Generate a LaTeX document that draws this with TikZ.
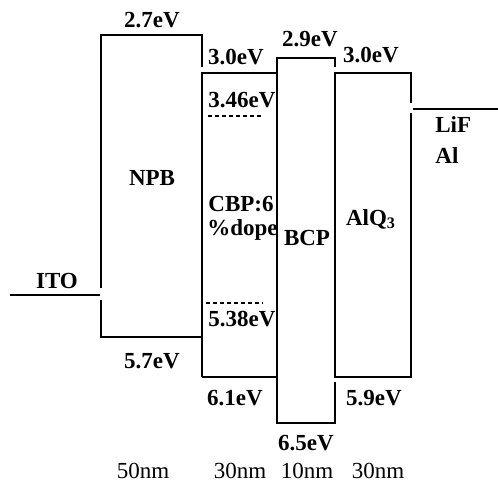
\documentclass[tikz,border=0pt]{standalone}
\usepackage{fontspec}
\setmainfont{Liberation Serif}
\usepackage{tikz}
\usetikzlibrary{positioning}

\newcommand{\labelsize}{\fontsize{11.5}{13.5}\selectfont}

\tikzset{
  level/.style={line width=0.8pt},
  dopant/.style={line width=0.8pt, dash pattern=on 2pt off 1.5pt},
  ev/.style={font=\labelsize\bfseries, inner sep=0pt, anchor=base},
  width/.style={font=\labelsize, inner sep=0pt, anchor=base}
}

\begin{document}
\begin{tikzpicture}[x=0.5pt, y=-0.5pt]
  \useasboundingbox (0,0) rectangle (498,481);

  % Anode
  \draw[level] (10,295) -- (100,295);
  \node[ev] (ito) at (57,288) {ITO};

  % NPB
  \draw[level] (101,288) -- (101,35) -- (202,35) -- (202,67);
  \draw[level] (101,300) -- (101,337) -- (202,337);
  \node[ev] (npb_lumo) at (152,28) {2.7eV};
  \node[ev] (npb) at (152,185) {NPB};
  \node[ev] (npb_homo) at (152,368) {5.7eV};

  % CBP host with dopant levels
  \draw[level] (202,377) -- (202,73) -- (277,73);
  \draw[level] (202,377) -- (277,377);
  \draw[dopant] (208,116) -- (263,116);
  \draw[dopant] (206,303) -- (263,303);
  \node[ev] (cbp_lumo) at (236,65) {3.0eV};
  \node[ev] (dop_lumo) at (242,108) {3.46eV};
  \node[ev, anchor=base west] (cbp) at (208,212) {CBP:6};
  \node[ev, anchor=base west] (dope) at (207,235) {\%dope};
  \node[ev] (dop_homo) at (242,326) {5.38eV};
  \node[ev] (cbp_homo) at (235,405) {6.1eV};

  % BCP
  \draw[level] (335,67) -- (335,58) -- (277,58) -- (277,423) -- (335,423) -- (335,382);
  \node[ev] (bcp_lumo) at (310,47) {2.9eV};
  \node[ev] (bcp) at (307,245) {BCP};
  \node[ev] (bcp_homo) at (306,450) {6.5eV};

  % AlQ3
  \draw[level] (411,103) -- (411,73) -- (335,73) -- (335,377) -- (411,377) -- (411,113);
  \node[ev] (alq_lumo) at (371,63) {3.0eV};
  \node[ev] (alq) at (371,225) {AlQ\textsubscript{3}};
  \node[ev] (alq_homo) at (374,405) {5.9eV};

  % Cathode
  \draw[level] (413,109) -- (498,109);
  \node[ev, anchor=base west] (lif) at (435,133) {LiF};
  \node[ev, anchor=base west] (al) at (435,163) {Al};

  % Thicknesses
  \node[width] (t_npb) at (143,478) {50nm};
  \node[width] (t_cbp) at (240,478) {30nm};
  \node[width] (t_bcp) at (307,478) {10nm};
  \node[width] (t_alq) at (378,478) {30nm};
\end{tikzpicture}
\end{document}
